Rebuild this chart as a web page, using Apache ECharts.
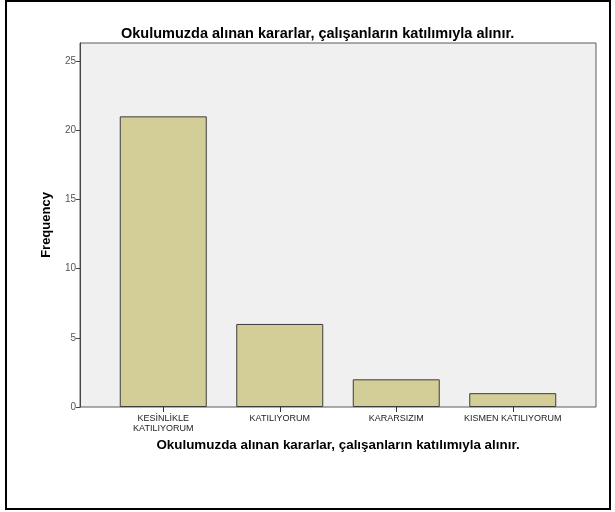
<!DOCTYPE html>
<html>
<head>
<meta charset="utf-8">
<script src="https://cdn.jsdelivr.net/npm/echarts@6/dist/echarts.min.js"></script>
<style>
  html, body { margin: 0; padding: 0; background: #fff; }
  #chart { width: 615px; height: 512px; }
</style>
</head>
<body>
<div id="chart"></div>
<script>
// karar sorusu - frekanslar
const titleText = 'Okulumuzda alınan kararlar, çalışanların katılımıyla alınır.';
const categories = ['KESİNLİKLE\nKATILIYORUM', 'KATILIYORUM', 'KARARSIZIM', 'KISMEN KATILIYORUM'];
const frequencies = [21, 6, 2, 1];
const yTicks = [0, 5, 10, 15, 20, 25];

const chart = echarts.init(document.getElementById('chart'));

chart.setOption({
  animation: false,
  backgroundColor: '#fff',
  textStyle: { fontFamily: 'Liberation Sans, Arial, sans-serif' },
  title: {
    text: titleText,
    left: 116,
    top: 21,
    textStyle: { fontSize: 14.5, fontWeight: 'bold', color: '#000' }
  },
  graphic: [{
    type: 'rect',
    shape: { x: 6, y: 1, width: 604, height: 508 },
    style: { fill: 'none', stroke: '#000', lineWidth: 2 },
    z: -10
  }],
  grid: [
    // kutu (arka plan + cerceve)
    { left: 80, right: 19, top: 43, bottom: 105, show: true, backgroundColor: '#f0f0f0', borderColor: '#5a5a5a', borderWidth: 1 },
    // veri alani
    { left: 105, right: 44, top: 43, bottom: 105 }
  ],
  xAxis: [
    { gridIndex: 0, type: 'value', show: false },
    {
      gridIndex: 1,
      type: 'category',
      data: categories,
      axisLine: { show: false },
      axisTick: { show: true, alignWithLabel: true, length: 5, lineStyle: { color: '#333' } },
      axisLabel: { fontSize: 9, color: '#222', margin: 7, lineHeight: 10, interval: 0 },
      name: titleText,
      nameLocation: 'middle',
      nameGap: 28,
      nameTextStyle: { fontSize: 13.4, fontWeight: 'bold', color: '#000' }
    }
  ],
  yAxis: [
    { gridIndex: 0, type: 'value', show: false },
    {
      gridIndex: 1,
      type: 'value',
      min: 0,
      max: 26.3,
      offset: 25,
      splitLine: { show: false },
      axisLine: { show: true, lineStyle: { color: '#444' } },
      axisTick: { show: true, length: 4, customValues: yTicks, lineStyle: { color: '#444' } },
      axisLabel: { fontSize: 10, color: '#555', margin: 4, customValues: yTicks },
      name: 'Frequency',
      nameLocation: 'middle',
      nameGap: 27,
      nameTextStyle: { fontSize: 13, fontWeight: 'bold', color: '#000' }
    }
  ],
  series: [{
    type: 'bar',
    xAxisIndex: 1,
    yAxisIndex: 1,
    data: frequencies,
    barWidth: 87,
    itemStyle: { color: '#d3ce97', borderColor: '#3c3c3c', borderWidth: 1 }
  }]
});
</script>
</body>
</html>
